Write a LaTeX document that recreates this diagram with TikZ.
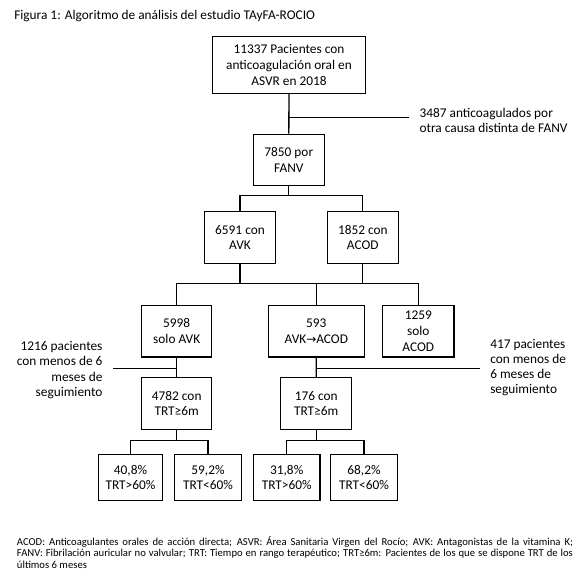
\documentclass[tikz,border=0pt]{standalone}
\usepackage{fontspec}
\setmainfont{Carlito}
\newfontfamily\symfont{DejaVu Sans}
\usetikzlibrary{positioning}
\tikzset{
		flow box/.style={
			rectangle,
			draw=black,
			line width=1pt,
			align=center,
			inner sep=0pt,
			minimum width=53.3pt,
			minimum height=38.6pt,
			font=\fontsize{10}{11.8}\selectfont
		},
		result box/.style={
			flow box,
			minimum width=50pt,
			minimum height=34.8pt
		},
		side note/.style={
			inner sep=0pt,
			font=\fontsize{10}{11.4}\selectfont
		},
		link/.style={line width=1pt}
	}

\begin{document}
\begin{tikzpicture}[x=0.75pt, y=-0.75pt]
			\useasboundingbox (0,0) rectangle (581,579);
			\node [side note, anchor=west] (title) at (14,16) {Figura 1: Algoritmo de análisis del estudio TAyFA-ROCIO};
			% cohort boxes
			\node [flow box, minimum width=115pt, minimum height=42.5pt] (total) at (289,65)
				{11337 Pacientes con\\anticoagulación oral en\\ASVR en 2018};
			\node [flow box] (fanv) at (288.8,160) {7850 por\\FANV};
			\node [flow box] (avk) at (240,237.5) {6591 con\\AVK};
			\node [flow box] (acod) at (362.8,237.5) {1852 con\\ACOD};
			\node [flow box, minimum width=52.5pt] (soloavk) at (176.7,331.2) {5998\\solo AVK};
			\node [flow box, minimum width=72pt] (cambio) at (316.3,331.2) {593\\AVK{\symfont\small →}ACOD};
			\node [flow box] (soloacod) at (418.3,331.2) {1259\\solo\\ACOD};
			\node [flow box, minimum width=52.5pt] (trtavk) at (176.7,403.5) {4782 con\\TRT≥6m};
			\node [flow box] (trtcambio) at (316.2,403.5) {176 con\\TRT≥6m};
			\node [result box, minimum width=48.3pt] (avkalto) at (130.5,477.5) {40,8\%\\TRT>60\%};
			\node [result box, minimum width=50.5pt] (avkbajo) at (208,477.5) {59,2\%\\TRT<60\%};
			\node [result box] (cambioalto) at (286.7,477.5) {31,8\%\\TRT>60\%};
			\node [result box] (cambiobajo) at (364,477.5) {68,2\%\\TRT<60\%};
			% exclusions
			\node [side note, anchor=west, align=left] (excl) at (419.3,120.5)
				{3487 anticoagulados por\\otra causa distinta de FANV};
			\node [side note, anchor=east, align=right] (lostavk) at (102.7,370)
				{1216 pacientes\\con menos de 6\\meses de\\seguimiento};
			\node [side note, anchor=west, align=left] (lostcambio) at (490,367.5)
				{417 pacientes\\con menos de\\6 meses de\\seguimiento};
			\node [anchor=north west, inner sep=0pt, text width=417pt, align=justify,
				font=\fontsize{8}{8.7}\selectfont] (legend) at (16.7,536)
				{ACOD: Anticoagulantes orales de acción directa; ASVR: Área Sanitaria Virgen del Rocío; AVK: Antagonistas de la vitamina K;\linebreak
				FANV: Fibrilación auricular no valvular; TRT: Tiempo en rango terapéutico; TRT≥6m: Pacientes de los que se dispone TRT de los\linebreak
				últimos 6 meses};
			% connectors
			\coordinate (exclend) at (409.3,117.3);
			\coordinate (bar1) at (0,195.7);
			\coordinate (bar2) at (0,283.3);
			\coordinate (lostavkend) at (113.3,368.3);
			\coordinate (lostcambioend) at (480,368.3);
			\coordinate (bar4) at (0,440.7);
			\draw [link] (total.south) -- (fanv.north);
			\draw [link] (total.south |- exclend) -- (exclend);
			\draw [link] (fanv.south) -- (fanv.south |- bar1);
			\draw [link] (avk.north) |- (bar1 -| acod.north) -- (acod.north);
			\draw [link] (avk.south) -- (avk.south |- bar2);
			\draw [link] (acod.south) -- (acod.south |- bar2);
			\draw [link] (soloavk.north) |- (bar2 -| soloacod.north) -- (soloacod.north);
			\draw [link] (cambio.north) -- (cambio.north |- bar2);
			\draw [link] (soloavk.south) -- (trtavk.north);
			\draw [link] (lostavkend) -- (lostavkend -| soloavk.south);
			\draw [link] (cambio.south) -- (trtcambio.north);
			\draw [link] (lostcambioend -| cambio.south) -- (lostcambioend);
			\draw [link] (trtavk.south) -- (trtavk.south |- bar4);
			\draw [link] (avkalto.north) |- (bar4 -| avkbajo.north) -- (avkbajo.north);
			\draw [link] (trtcambio.south) -- (trtcambio.south |- bar4);
			\draw [link] (cambioalto.north) |- (bar4 -| cambiobajo.north) -- (cambiobajo.north);
\end{tikzpicture}
\end{document}
